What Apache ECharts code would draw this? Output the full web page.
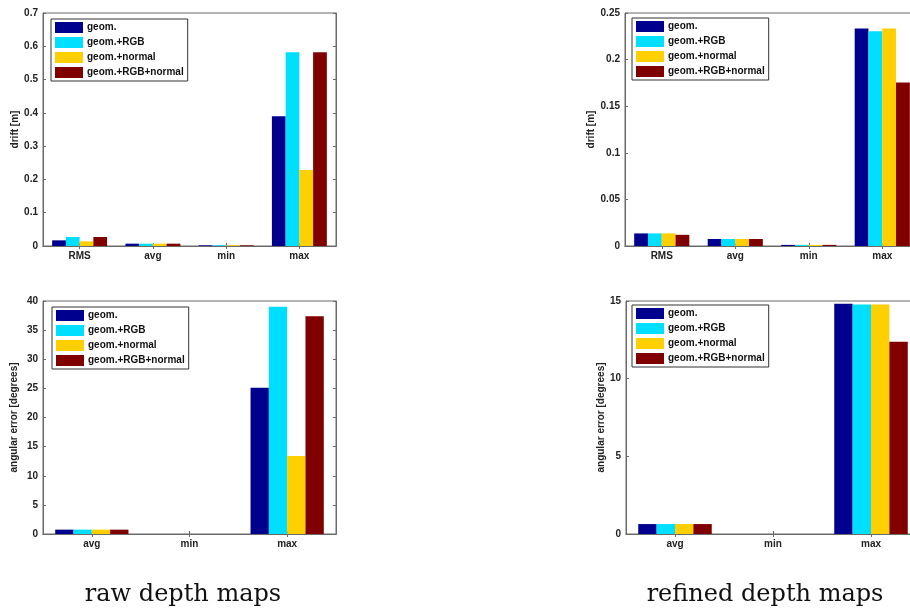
<!DOCTYPE html>
<html>
<head>
<meta charset="utf-8">
<script src="https://cdn.jsdelivr.net/npm/echarts@6/dist/echarts.min.js"></script>
<style>
  html, body { margin: 0; padding: 0; background: #fff; }
  #chart { width: 910px; height: 609px; }
</style>
</head>
<body>
<div id="chart"></div>
<script>
// Categories
const driftMetrics = ['RMS', 'avg', 'min', 'max'];
const angleMetrics = ['avg', 'min', 'max'];
const methods = ['geom.', 'geom.+RGB', 'geom.+normal', 'geom.+RGB+normal'];

// Drift [m], raw depth maps (one row per method)
const rawDrift = [
  [0.017, 0.007, 0.002, 0.390],
  [0.027, 0.007, 0.002, 0.582],
  [0.014, 0.007, 0.002, 0.228],
  [0.027, 0.007, 0.002, 0.582]
];
// Drift [m], refined depth maps
const refinedDrift = [
  [0.0135, 0.0075, 0.0012, 0.2335],
  [0.0135, 0.0075, 0.0012, 0.2305],
  [0.0135, 0.0075, 0.0012, 0.2335],
  [0.0120, 0.0075, 0.0012, 0.1755]
];
// Angular error [degrees], raw depth maps
const rawAngle = [
  [0.75, 0, 25.1],
  [0.75, 0, 39.0],
  [0.75, 0, 13.4],
  [0.75, 0, 37.4]
];
// Angular error [degrees], refined depth maps
const refinedAngle = [
  [0.64, 0, 14.83],
  [0.64, 0, 14.78],
  [0.64, 0, 14.78],
  [0.64, 0, 12.38]
];

// Y-axis ranges and tick spacing per panel
const driftRawTicks = { min: 0, max: 0.7, interval: 0.1 };
const driftRefinedTicks = { min: 0, max: 0.25, interval: 0.05 };
const angleRawTicks = { min: 0, max: 40, interval: 5 };
const angleRefinedTicks = { min: 0, max: 15, interval: 5 };

const colors = ['#00008f', '#00dfff', '#ffcf00', '#800000'];
const axisColor = '#6a6a6a';
const labelFont = { fontFamily: 'Liberation Sans, Arial, sans-serif', fontSize: 10, fontWeight: 'bold', color: '#222' };

// The right-hand panels run slightly past the page edge
const panels = [
  { grid: { left: 43, top: 13, width: 293, height: 233 }, cats: driftMetrics, data: rawDrift,
    ticks: driftRawTicks, name: 'drift [m]', nameGap: 22, legend: { left: 51, top: 19 } },
  { grid: { left: 625, top: 13, width: 294, height: 233 }, cats: driftMetrics, data: refinedDrift,
    ticks: driftRefinedTicks, name: 'drift [m]', nameGap: 26, legend: { left: 632, top: 18 } },
  { grid: { left: 43, top: 301, width: 293, height: 233 }, cats: angleMetrics, data: rawAngle,
    ticks: angleRawTicks, name: 'angular error [degrees]', nameGap: 24, legend: { left: 52, top: 307 } },
  { grid: { left: 626, top: 301, width: 294, height: 233 }, cats: angleMetrics, data: refinedAngle,
    ticks: angleRefinedTicks, name: 'angular error [degrees]', nameGap: 19, legend: { left: 632, top: 305 } }
];

const grid = [], xAxis = [], yAxis = [], series = [], legend = [];

panels.forEach((p, i) => {
  grid.push(Object.assign({
    show: true, borderColor: axisColor, borderWidth: 1,
    containLabel: false, outerBoundsMode: 'none'
  }, p.grid));

  // bottom axis with labels, top axis for mirrored ticks
  xAxis.push({
    type: 'category', gridIndex: i, data: p.cats, position: 'bottom',
    axisLine: { show: true, lineStyle: { color: axisColor } },
    axisTick: { show: true, inside: true, alignWithLabel: true, length: 3, lineStyle: { color: axisColor } },
    axisLabel: Object.assign({ margin: 5 }, labelFont)
  });
  xAxis.push({
    type: 'category', gridIndex: i, data: p.cats, position: 'top',
    axisLine: { show: true, lineStyle: { color: axisColor } },
    axisTick: { show: true, inside: true, alignWithLabel: true, length: 3, lineStyle: { color: axisColor } },
    axisLabel: { show: false }
  });

  // left axis with labels, right axis for mirrored ticks
  yAxis.push({
    type: 'value', gridIndex: i, position: 'left',
    min: p.ticks.min, max: p.ticks.max, interval: p.ticks.interval,
    name: p.name, nameLocation: 'middle', nameGap: p.nameGap, nameRotate: 90,
    nameTextStyle: Object.assign({}, labelFont),
    axisLine: { show: true, lineStyle: { color: axisColor } },
    axisTick: { show: true, inside: true, length: 3, lineStyle: { color: axisColor } },
    splitLine: { show: false },
    axisLabel: Object.assign({ margin: 5 }, labelFont)
  });
  yAxis.push({
    type: 'value', gridIndex: i, position: 'right',
    min: p.ticks.min, max: p.ticks.max, interval: p.ticks.interval,
    axisLine: { show: true, lineStyle: { color: axisColor } },
    axisTick: { show: true, inside: true, length: 3, lineStyle: { color: axisColor } },
    splitLine: { show: false },
    axisLabel: { show: false }
  });

  methods.forEach((m, k) => {
    series.push({
      type: 'bar', name: m, xAxisIndex: 2 * i, yAxisIndex: 2 * i,
      data: p.data[k], barGap: '0%', barCategoryGap: '25%',
      itemStyle: { color: colors[k] }, silent: true
    });
  });

  legend.push({
    data: methods, orient: 'vertical', left: p.legend.left, top: p.legend.top,
    itemWidth: 28, itemHeight: 11, itemGap: 4, icon: 'rect',
    padding: [3, 4, 3, 4], borderColor: '#333', borderWidth: 1, backgroundColor: '#fff',
    selectedMode: false,
    textStyle: { fontFamily: 'Liberation Sans, Arial, sans-serif', fontSize: 10, fontWeight: 'bold', color: '#111', padding: [0, 0, 0, -1] }
  });
});

const chart = echarts.init(document.getElementById('chart'), null, { renderer: 'canvas' });
chart.setOption({
  animation: false,
  backgroundColor: '#fff',
  grid, xAxis, yAxis, series, legend,
  graphic: [
    { type: 'text', x: 183, y: 595, style: { text: 'raw depth maps', font: '24px "DejaVu Serif", serif', fill: '#111', textAlign: 'center', textVerticalAlign: 'middle' } },
    { type: 'text', x: 765, y: 595, style: { text: 'refined depth maps', font: '24px "DejaVu Serif", serif', fill: '#111', textAlign: 'center', textVerticalAlign: 'middle' } }
  ]
});
</script>
</body>
</html>
